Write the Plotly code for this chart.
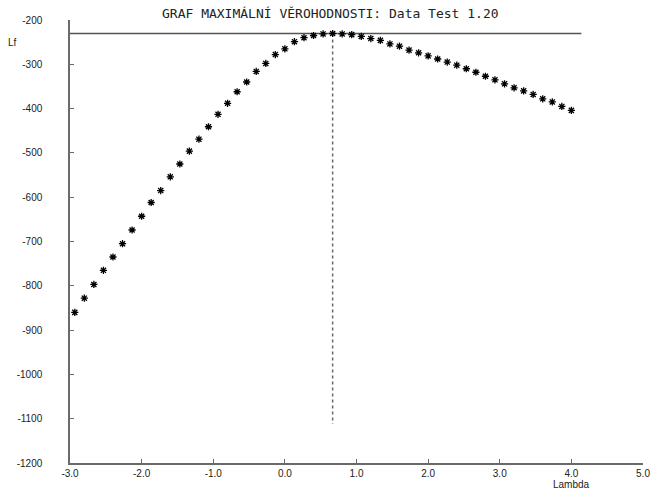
import numpy as np
import plotly.graph_objects as go

# Profile log-likelihood Lf over a grid of Box-Cox lambda values
lambda_start = -2.9333
lambda_step = 2 / 15
lf_values = [
    -860, -828, -797, -765, -735, -705, -674, -643, -612, -585,
    -554, -525, -496, -469, -441, -413, -388, -362, -340, -316,
    -298, -278, -265, -249, -240, -235, -231.5, -230.5, -231.5, -233,
    -237, -242, -246, -254, -259, -268, -274, -281, -288, -295,
    -302, -310, -318, -327, -335, -344, -353, -360, -368, -378,
    -385, -395, -404,
]
lambdas = [round(lambda_start + i * lambda_step, 4) for i in range(len(lf_values))]

# Reference lines: the maximum and the lambda at which it is reached
hline_end = 4.14
vline_bottom = -1112

x_ticks = [-3, -2, -1, 0, 1, 2, 3, 4, 5]
x_tick_text = ["-3.0", "-2.0", "-1.0", "0.0", "1.0", "2.0", "3.0", "4.0", "5.0"]
y_ticks = [-200, -300, -400, -500, -600, -700, -800, -900, -1000, -1100, -1200]
y_tick_text = ["-200", "-300", "-400", "-500", "-600", "-700", "-800", "-900",
               "-1000", "-1100", "-1200"]

title_text = "GRAF MAXIMÁLNÍ VĚROHODNOSTI: Data Test 1.20"

i_max = int(np.argmax(lf_values))
lambda_hat = lambdas[i_max]
lf_max = lf_values[i_max]

W, H = 655, 491
ML, MR, MT, MB = 70, 12, 20, 28
plot_w = W - ML - MR
plot_h = H - MT - MB


def px_x(x):
    return (x - ML) / plot_w


def px_y(y):
    return (H - MB - y) / plot_h


axis_color = "#6a6a6a"
label_font = dict(family="Liberation Sans, Arial, sans-serif", size=10, color="#222")

fig = go.Figure()

# horizontal line at the maximum of Lf
fig.add_trace(go.Scatter(
    x=[x_ticks[0], hline_end], y=[lf_max, lf_max], mode="lines",
    line=dict(color="#555", width=1.5), hoverinfo="skip", showlegend=False,
))
# dotted vertical line at the estimated lambda
fig.add_trace(go.Scatter(
    x=[lambda_hat, lambda_hat], y=[lf_max, vline_bottom], mode="lines",
    line=dict(color="#666", width=1.5, dash="dot"), hoverinfo="skip", showlegend=False,
))
# likelihood points
fig.add_trace(go.Scatter(
    x=lambdas, y=lf_values, mode="markers",
    marker=dict(symbol="asterisk", size=6, color="black",
                line=dict(color="black", width=1.3)),
    showlegend=False,
))

fig.update_layout(
    width=W, height=H,
    margin=dict(l=ML, r=MR, t=MT, b=MB),
    paper_bgcolor="white", plot_bgcolor="white",
    font=label_font,
    annotations=[
        dict(text=title_text, x=px_x(330), xref="paper", xanchor="center",
             y=px_y(14), yref="paper", yanchor="middle", showarrow=False,
             font=dict(family="DejaVu Sans Mono, monospace", size=13, color="#222")),
        dict(text="Lf", x=px_x(12), xref="paper", xanchor="center",
             y=px_y(42), yref="paper", yanchor="middle", showarrow=False,
             font=label_font),
        dict(text="Lambda", x=4, xref="x", xanchor="center",
             y=px_y(485), yref="paper", yanchor="middle", showarrow=False,
             font=label_font),
    ],
)

fig.update_xaxes(
    range=[-3, 5], tickvals=x_ticks, ticktext=x_tick_text,
    showline=True, linecolor=axis_color, linewidth=1.5,
    ticks="inside", ticklen=4, tickcolor=axis_color, tickwidth=1,
    showgrid=False, zeroline=False, ticklabelstandoff=0, automargin=False,
)
fig.update_yaxes(
    range=[-1200, -200], tickvals=y_ticks, ticktext=y_tick_text,
    showline=True, linecolor=axis_color, linewidth=1.5,
    ticks="inside", ticklen=4, tickcolor=axis_color, tickwidth=1,
    showgrid=False, zeroline=False, ticklabelstandoff=24, automargin=False,
)

fig.write_html("out.html")
